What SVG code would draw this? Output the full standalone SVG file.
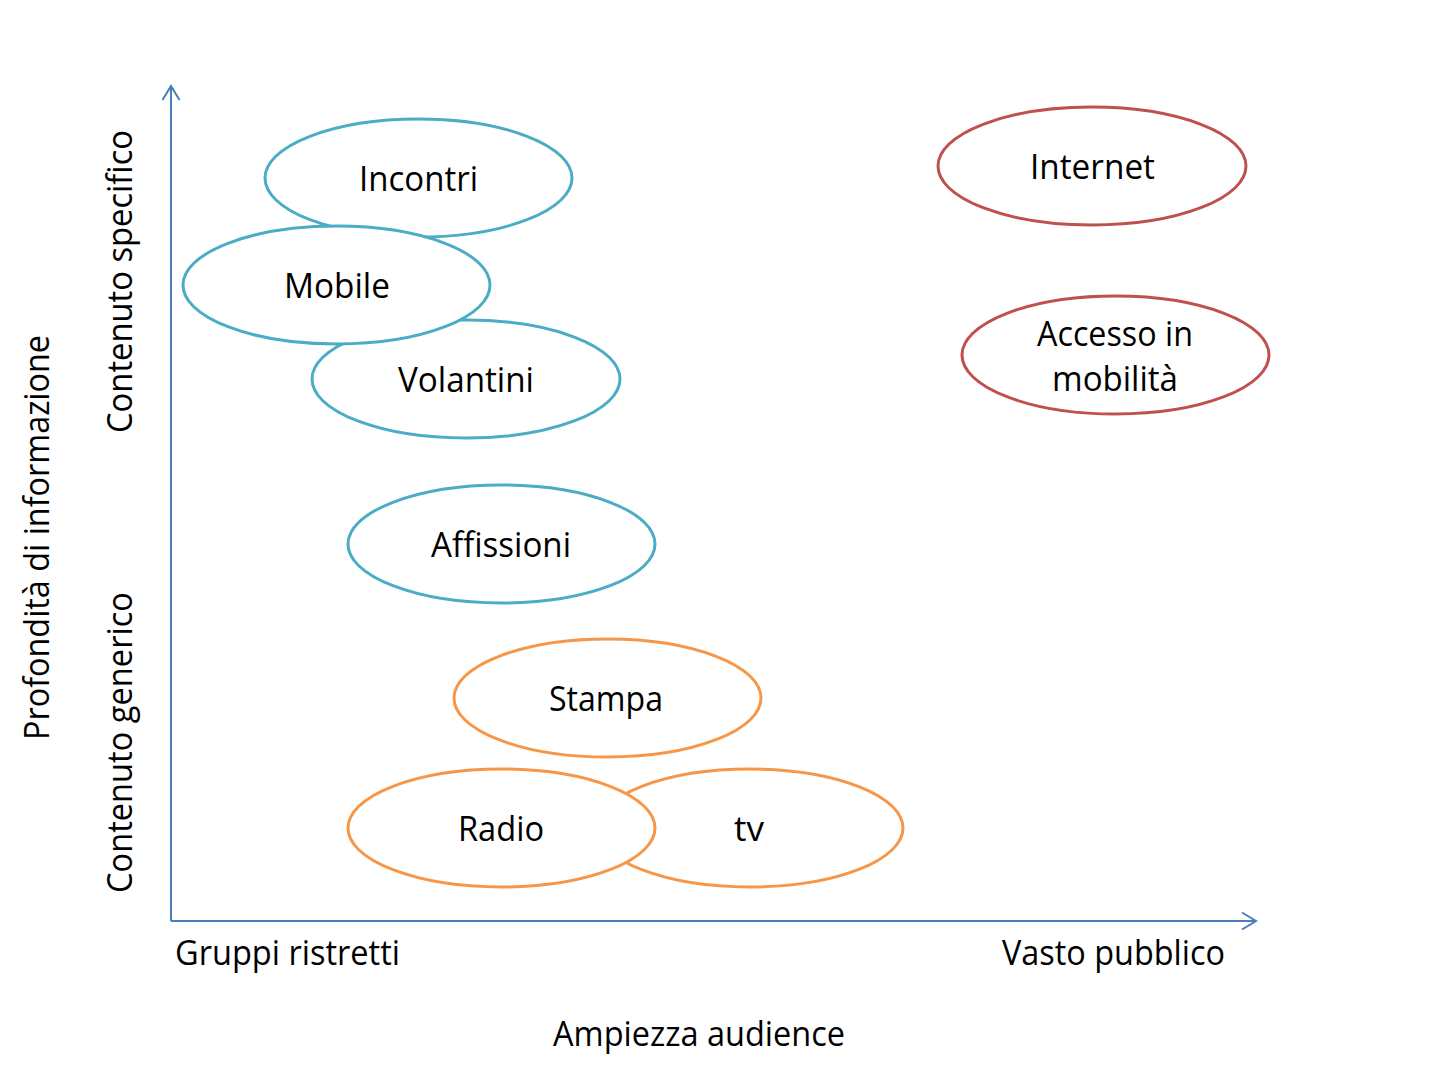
<svg xmlns="http://www.w3.org/2000/svg" width="1436" height="1065" viewBox="0 0 1436 1065">
<style>
text{font-family:"Open Sans","Noto Sans","Liberation Sans",sans-serif;font-size:34px;fill:#000;text-anchor:middle}
.lbl{text-anchor:start}
.b{fill:#fff;stroke:#4BACC6;stroke-width:3}
.o{fill:#fff;stroke:#F79646;stroke-width:3}
.r{fill:#fff;stroke:#C0504D;stroke-width:3}
.ax{stroke:#4A7EBB;stroke-width:2;fill:none}
</style>
<defs>
<marker id="arr" viewBox="0 0 20 20" refX="18" refY="10" markerWidth="20" markerHeight="20" markerUnits="userSpaceOnUse" orient="auto">
<path d="M4,1.5 L18,10 L4,18.5" fill="none" stroke="#4A7EBB" stroke-width="2"/>
</marker>
</defs>
<rect width="1436" height="1065" fill="#fff"/>
<g id="connectors">
<line class="ax" x1="171" y1="921" x2="171" y2="86" marker-end="url(#arr)"/>
<line class="ax" x1="171" y1="921" x2="1256" y2="921" marker-end="url(#arr)"/>
</g>
<g id="incontri"><ellipse class="b" cx="418.5" cy="178" rx="153.5" ry="59"/><text x="418.5" y="191" textLength="119" lengthAdjust="spacingAndGlyphs">Incontri</text></g>
<g id="volantini"><ellipse class="b" cx="466" cy="379" rx="154" ry="59"/><text x="466" y="392" textLength="136" lengthAdjust="spacingAndGlyphs">Volantini</text></g>
<g id="mobile"><ellipse class="b" cx="336.5" cy="285" rx="153.5" ry="59"/><text x="337" y="298" textLength="106" lengthAdjust="spacingAndGlyphs">Mobile</text></g>
<g id="affissioni"><ellipse class="b" cx="501.5" cy="544" rx="153.5" ry="59"/><text x="501" y="557" textLength="140" lengthAdjust="spacingAndGlyphs">Affissioni</text></g>
<g id="stampa"><ellipse class="o" cx="607.5" cy="698" rx="153.5" ry="59"/><text x="606" y="711" textLength="114" lengthAdjust="spacingAndGlyphs">Stampa</text></g>
<g id="tv"><ellipse class="o" cx="750" cy="828" rx="153" ry="59"/><text x="749" y="841" textLength="30" lengthAdjust="spacingAndGlyphs">tv</text></g>
<g id="radio"><ellipse class="o" cx="501.5" cy="828" rx="153.5" ry="59"/><text x="501" y="841" textLength="86" lengthAdjust="spacingAndGlyphs">Radio</text></g>
<g id="internet"><ellipse class="r" cx="1092" cy="166" rx="154" ry="59"/><text x="1092.5" y="179" textLength="125" lengthAdjust="spacingAndGlyphs">Internet</text></g>
<g id="accesso"><ellipse class="r" cx="1115.5" cy="355" rx="153.5" ry="59"/><text x="1115" y="346" textLength="156" lengthAdjust="spacingAndGlyphs">Accesso in</text><text x="1115" y="391" textLength="126" lengthAdjust="spacingAndGlyphs">mobilità</text></g>
<g id="axis-labels">
<text class="lbl" x="175" y="965" textLength="225" lengthAdjust="spacingAndGlyphs">Gruppi ristretti</text>
<text class="lbl" x="1002" y="965" textLength="223" lengthAdjust="spacingAndGlyphs">Vasto pubblico</text>
<text x="699" y="1046" textLength="292" lengthAdjust="spacingAndGlyphs">Ampiezza audience</text>
<text transform="translate(49,537.5) rotate(-90)" textLength="405" lengthAdjust="spacingAndGlyphs">Profondità di informazione</text>
<text transform="translate(132,281.5) rotate(-90)" textLength="303" lengthAdjust="spacingAndGlyphs">Contenuto specifico</text>
<text transform="translate(132,742.5) rotate(-90)" textLength="301" lengthAdjust="spacingAndGlyphs">Contenuto generico</text>
</g>
</svg>
